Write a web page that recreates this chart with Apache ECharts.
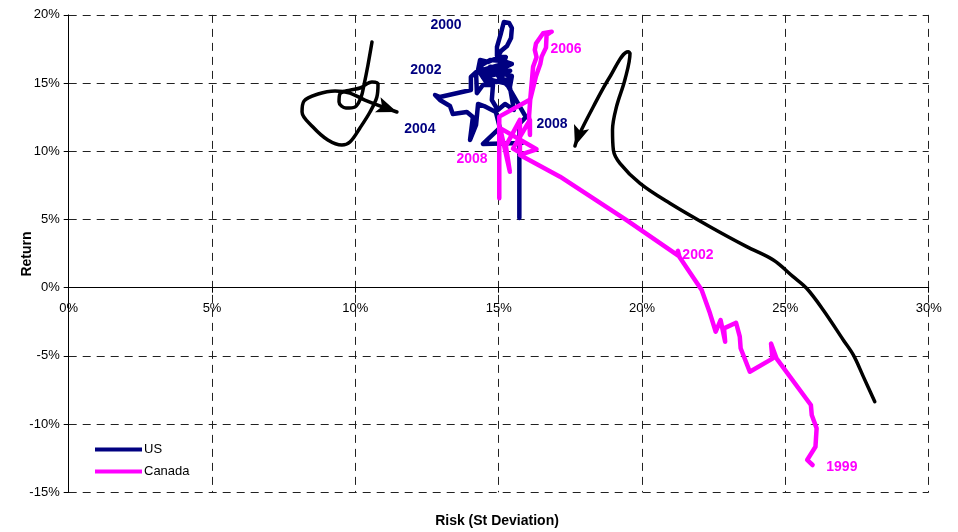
<!DOCTYPE html>
<html><head><meta charset="utf-8">
<script src="https://cdn.jsdelivr.net/npm/echarts/dist/echarts.min.js"></script>
<style>html,body{margin:0;padding:0;background:#fff}#c{width:958px;height:532px}</style>
</head><body><div id="c"></div>
<script>
// Risk (x, %) and Return (y, %) paths
const usPath = [
 [15.72,5.11],[15.72,12.00],[15.95,12.51],[15.32,14.79],[15.04,15.37],[15.39,15.15],[15.29,15.81],[14.90,15.96],
 [14.56,15.67],[14.35,16.25],[14.69,16.69],[15.15,16.62],[15.46,16.40],
 [14.45,15.40],[15.40,15.90],[14.50,16.00],[15.30,16.50],[14.60,15.30],[15.20,15.00],[14.70,16.20],[15.10,16.10],
 [15.25,16.91],[14.94,16.99],[14.94,17.65],
 [15.08,18.67],[15.18,19.48],[15.36,19.41],[15.46,19.04],[15.43,18.31],[15.29,17.72],[15.08,17.35],[14.94,16.84],
 [14.63,16.55],[14.35,16.69],[14.28,15.96],[14.56,15.08],[14.94,15.08],[15.18,15.67],[15.46,15.52],[15.39,14.71],
 [15.53,13.03],[15.22,13.47],[14.97,13.03],[14.76,13.76],[14.80,14.86],[14.45,14.86],[14.24,14.27],[14.21,15.81],
 [14.03,15.45],[14.03,14.49],[12.95,13.98],[12.78,14.13],[12.95,13.76],[13.30,13.32],[13.40,12.73],[13.89,12.88],
 [14.10,12.51],[14.00,10.83],[14.21,11.93],[14.28,13.47],[14.49,13.32],[14.90,12.88],[15.04,11.71],[14.45,10.54],
 [15.81,10.61]
];
const canadaPath = [
 [25.95,-13.0],[25.76,-12.63],[26.05,-11.66],[26.09,-10.31],[25.92,-9.33],[25.89,-8.6],[24.69,-5.18],[24.5,-4.1],
 [24.55,-5.2],[23.76,-6.16],[23.44,-4.44],[23.41,-3.59],[23.28,-2.57],[22.86,-2.98],[22.9,-3.96],[22.74,-2.37],
 [22.57,-3.23],[22.37,-1.88],[22.08,-0.17],[21.3,2.27],[21.25,2.7],[21.3,2.3],[19.46,4.96],[17.14,8.14],
 [15.74,9.73],[16.32,10.15],[15.05,11.7],[15.39,8.5],[15.25,10.4],[15.74,12.3],[15.74,9.9],[15.5,10.2],
 [16.09,12.3],[16.09,11.2],[16.06,12.6],[16.1,13.8],[16.21,14.74],[16.3,15.5],[16.45,16.4],[16.5,16.94],
 [16.65,17.6],[16.67,18.53],[16.85,18.77],[16.55,18.65],[16.3,17.9],[16.26,17.43],[16.32,16.9],[16.2,16.2],
 [16.15,15.0],[16.1,13.8],[15.02,12.54],[15.02,6.55]
];
// hand-drawn annotation curves (end with an arrow)
const noteLeft = [
 [10.58,18.01],[10.44,16.33],[10.30,14.86],[10.20,13.98],[9.99,13.25],[9.67,13.17],[9.43,13.61],[9.46,14.20],
 [9.81,14.49],[10.16,14.64],[10.58,15.08],[10.79,14.93],[10.75,13.98],[10.51,12.88],[10.16,11.71],[9.81,10.68],
 [9.53,10.46],[9.04,10.83],[8.52,11.78],[8.14,12.88],[8.21,13.69],[8.70,14.20],[9.29,14.42],[9.81,14.27],
 [10.33,13.76],[11.45,12.88]
];
const noteRight = [
 [28.12,-8.36],[27.72,-6.52],[27.37,-4.93],[27.02,-3.83],[26.32,-1.63],[25.74,-0.04],[25.27,0.81],[24.58,2.03],
 [23.65,3.01],[22.37,4.47],[20.97,6.19],[19.93,7.65],[19.23,9.12],[19.0,10.10],[18.97,11.56],[19.11,13.27],
 [19.40,15.23],[19.58,17.18],[19.52,17.30],[18.88,15.47],[18.30,13.27],[17.77,11.07],[17.66,10.39]
];
const usYearLabels = [[13.16,19.26,'2000'],[12.46,15.96,'2002'],[12.25,11.63,'2004'],[16.86,12.0,'2008']];
const canadaYearLabels = [[17.35,17.5,'2006'],[14.07,9.44,'2008'],[21.95,2.40,'2002'],[26.97,-13.15,'1999']];
const xMin = 0, xMax = 30, yMin = -15, yMax = 20, step = 5;

const FONT = '"Liberation Sans", Arial, sans-serif';
// arrowhead whose tip sits at the centre of its box (extra moveTo widens the box upward)
const ARROW = 'path://M0,-18 M0,0 L7,18 L0,14 L-7,18 Z';
const chart = echarts.init(document.getElementById('c'), null, {renderer: 'canvas'});

function noteSeries(name, path) {
  return {
    name, type: 'line', data: path.map(p => ({value: p})), smooth: 0.35, symbol: 'none', showSymbol: true,
    lineStyle: {color: '#000', width: 3.5, cap: 'round', join: 'round'}, itemStyle: {color: '#000', opacity: 1},
    silent: true, z: 3
  };
}
function labelSeries(name, arr, color) {
  return {
    name, type: 'scatter', symbolSize: 0, silent: true, z: 5,
    itemStyle: {opacity: 1},
    data: arr.map(a => ({value: [a[0], a[1]], name: a[2]})),
    label: {show: true, position: 'inside', formatter: '{b}', color, opacity: 1, textBorderWidth: 0,
            fontWeight: 'bold', fontSize: 14, fontFamily: FONT}
  };
}
const axisCommon = {
  type: 'value', interval: step,
  axisLine: {show: true, onZero: false, lineStyle: {color: '#000', width: 1}},
  axisTick: {show: true, length: 5, lineStyle: {color: '#000'}},
  axisLabel: {formatter: v => v + '%', color: '#000', fontSize: 13, fontFamily: FONT},
  splitLine: {show: true, lineStyle: {color: '#222', type: [8, 6], width: 1}}
};
const gridTop = 14.9, gridBottom = 39.7, chartH = 532;
const plotH = chartH - gridTop - gridBottom;
// move the x axis up to the 0% line
const zeroOffset = -plotH * (0 - yMin) / (yMax - yMin);
const option = {
  animation: false,
  backgroundColor: '#fff',
  grid: {left: 68.7, right: 29.3, top: gridTop, bottom: gridBottom, containLabel: false},
  xAxis: Object.assign({}, axisCommon, {min: xMin, max: xMax, offset: zeroOffset,
    axisLabel: Object.assign({}, axisCommon.axisLabel, {margin: 14})}),
  yAxis: Object.assign({}, axisCommon, {min: yMin, max: yMax,
    axisLabel: Object.assign({}, axisCommon.axisLabel, {margin: 9})}),
  legend: {
    data: ['US', 'Canada'], orient: 'vertical', left: 95, top: 443, padding: 0, icon: 'rect',
    itemWidth: 47, itemHeight: 4, itemGap: 9,
    textStyle: {color: '#000', fontSize: 13, fontFamily: FONT, padding: [0, 0, 0, -3]}
  },
  graphic: [
    {type: 'text', x: 497, y: 521, silent: true,
     style: {text: 'Risk (St Deviation)', align: 'center', verticalAlign: 'middle', font: 'bold 14px ' + FONT, fill: '#000'}},
    {type: 'text', x: 27, y: 254, rotation: Math.PI / 2, silent: true,
     style: {text: 'Return', align: 'center', verticalAlign: 'middle', font: 'bold 14px ' + FONT, fill: '#000'}}
  ],
  series: [
    {name: 'US', type: 'line', data: usPath, symbol: 'none', showSymbol: false,
     lineStyle: {color: '#000080', width: 4.5, cap: 'round', join: 'round'}, itemStyle: {color: '#000080'}, z: 2},
    {name: 'Canada', type: 'line', data: canadaPath, symbol: 'none', showSymbol: false,
     lineStyle: {color: '#FF00FF', width: 4.5, cap: 'round', join: 'round'}, itemStyle: {color: '#FF00FF'}, z: 2},
    noteSeries('noteLeft', noteLeft),
    noteSeries('noteRight', noteRight),
    labelSeries('usYears', usYearLabels, '#000080'),
    labelSeries('canadaYears', canadaYearLabels, '#FF00FF')
  ]
};
chart.setOption(option);

function withArrow(path) {
  const n = path.length;
  const a = chart.convertToPixel({gridIndex: 0}, path[n - 2]);
  const b = chart.convertToPixel({gridIndex: 0}, path[n - 1]);
  const dx = b[0] - a[0], dy = b[1] - a[1];
  const ang = Math.atan2(-dx, -dy) * 180 / Math.PI;
  return path.map((p, i) => i === n - 1
    ? {value: p, symbol: ARROW, symbolSize: [16, 41], symbolRotate: ang,
       itemStyle: {color: '#000', opacity: 1}}
    : {value: p});
}
chart.setOption({series: [{}, {}, {data: withArrow(noteLeft)}, {data: withArrow(noteRight)}]});
</script>
</body></html>
